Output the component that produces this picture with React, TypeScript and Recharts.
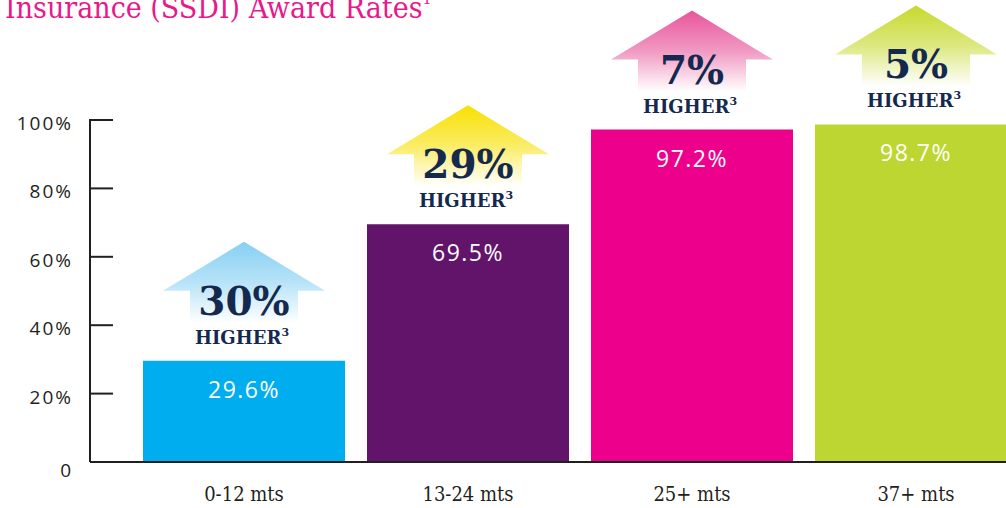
import React from "react";
import { BarChart, Bar, XAxis, YAxis, LabelList, Cell } from "recharts";

// SSDI award rates by months of representation, with "x% higher" arrows
// sitting above each bar.

const categories = ["0-12 mts", "13-24 mts", "25+ mts", "37+ mts"];
const awardRates = [29.6, 69.5, 97.2, 98.7];
const increases = ["30%", "29%", "7%", "5%"];
const barColors = ["#00adee", "#62146b", "#ec008c", "#bdd631"];
const arrowColors = ["#86d0f3", "#f8e000", "#e8559b", "#c6d92c"];
const yTicks = [0, 20, 40, 60, 80, 100];

const INK = "#231f20";
const NAVY = "#14294d";
const MAGENTA = "#e8198b";
const SANS = "'Open Sans', 'DejaVu Sans', sans-serif";
const SLAB = "'DejaVu Serif Condensed', 'DejaVu Serif', serif";
const SLAB_BOLD = "'DejaVu Serif', serif";

const data = categories.map((category, i) => ({
  category,
  rate: awardRates[i],
  increase: increases[i],
}));

const Y_TICK_MARGIN = 17;

function YTick(props: any) {
  const { x, y, payload } = props;
  const v = payload.value as number;
  const axisX = x + Y_TICK_MARGIN;
  return (
    <g>
      {v !== 0 && (
        <line x1={axisX - 1} x2={axisX + 23} y1={y} y2={y} stroke={INK} strokeWidth={2} />
      )}
      <text
        x={x}
        y={v === 0 ? y + 8 : y + 3}
        textAnchor="end"
        dominantBaseline="central"
        fill={INK}
        fontFamily={SANS}
        fontWeight={400}
        fontSize={19}
        letterSpacing={2}
      >
        {v === 0 ? "0" : `${v}%`}
      </text>
    </g>
  );
}

function ValueLabel(props: any) {
  const vb = props.viewBox ?? props;
  const cx = vb.x + vb.width / 2;
  return (
    <text
      x={cx}
      y={vb.y + 37}
      textAnchor="middle"
      fill="#ffffff"
      fontFamily={SANS}
      fontWeight={400}
      fontSize={23}
      letterSpacing={1.5}
    >
      {`${props.value}%`}
    </text>
  );
}

function ArrowLabel(props: any) {
  const vb = props.viewBox ?? props;
  const idx = typeof props.index === "number" ? props.index : increases.indexOf(props.value);
  const cx = vb.x + vb.width / 2;
  const top = vb.y;
  const apex = top - 119;
  const wing = apex + 49;
  const shaftBottom = apex + 81;
  const gid = `arrow-grad-${idx}`;
  const pts = [
    [cx, apex],
    [cx + 81, wing],
    [cx + 54, wing],
    [cx + 54, shaftBottom],
    [cx - 54, shaftBottom],
    [cx - 54, wing],
    [cx - 81, wing],
  ]
    .map((p) => p.join(","))
    .join(" ");
  return (
    <g>
      <defs>
        <linearGradient id={gid} x1="0" y1="0" x2="0" y2="1">
          <stop offset="0%" stopColor={arrowColors[idx]} stopOpacity={1} />
          <stop offset="50%" stopColor={arrowColors[idx]} stopOpacity={0.6} />
          <stop offset="100%" stopColor={arrowColors[idx]} stopOpacity={0} />
        </linearGradient>
      </defs>
      <polygon points={pts} fill={`url(#${gid})`} />
      <text
        x={cx}
        y={top - 46}
        textAnchor="middle"
        fill={NAVY}
        fontFamily={SLAB_BOLD}
        fontWeight={700}
        fontSize={39}
      >
        {props.value}
      </text>
      <text
        x={cx - 2}
        y={top - 17}
        textAnchor="middle"
        fill={NAVY}
        fontFamily={SLAB_BOLD}
        fontWeight={700}
        fontSize={18}
      >
        HIGHER
        <tspan fontSize={11} dy={-8}>
          3
        </tspan>
      </text>
    </g>
  );
}

export default function App() {
  return (
    <div
      style={{
        position: "absolute",
        left: 0,
        top: 0,
        width: 1006,
        height: 508,
        overflow: "hidden",
        background: "#ffffff",
      }}
    >
      <BarChart
        width={1040}
        height={508}
        data={data}
        margin={{ top: 120, right: 12, bottom: 0, left: 0 }}
      >
        <XAxis
          dataKey="category"
          height={46}
          padding={{ left: 42, right: 0 }}
          axisLine={{ stroke: INK, strokeWidth: 2 }}
          tickLine={false}
          tickSize={0}
          tickMargin={25}
          tick={{ fill: INK, fontFamily: SLAB, fontSize: 20, fontWeight: 300 }}
        />
        <YAxis
          width={90}
          domain={[0, 100]}
          ticks={yTicks}
          axisLine={{ stroke: INK, strokeWidth: 2 }}
          tickLine={false}
          tickSize={0}
          tickMargin={Y_TICK_MARGIN}
          tick={<YTick />}
        />
        <Bar dataKey="rate" barSize={202} isAnimationActive={false}>
          {data.map((d, i) => (
            <Cell key={d.category} fill={barColors[i]} />
          ))}
          <LabelList dataKey="rate" content={<ValueLabel />} />
          <LabelList dataKey="increase" content={<ArrowLabel />} />
        </Bar>
      </BarChart>
      <svg
        width={1006}
        height={40}
        style={{ position: "absolute", left: 0, top: 0, pointerEvents: "none" }}
      >
        <text x={5} y={18} fill={MAGENTA} fontFamily={SLAB} fontSize={30}>
          Insurance (SSDI) Award Rates
          <tspan fontSize={16} dy={-14}>
            1
          </tspan>
        </text>
      </svg>
    </div>
  );
}
